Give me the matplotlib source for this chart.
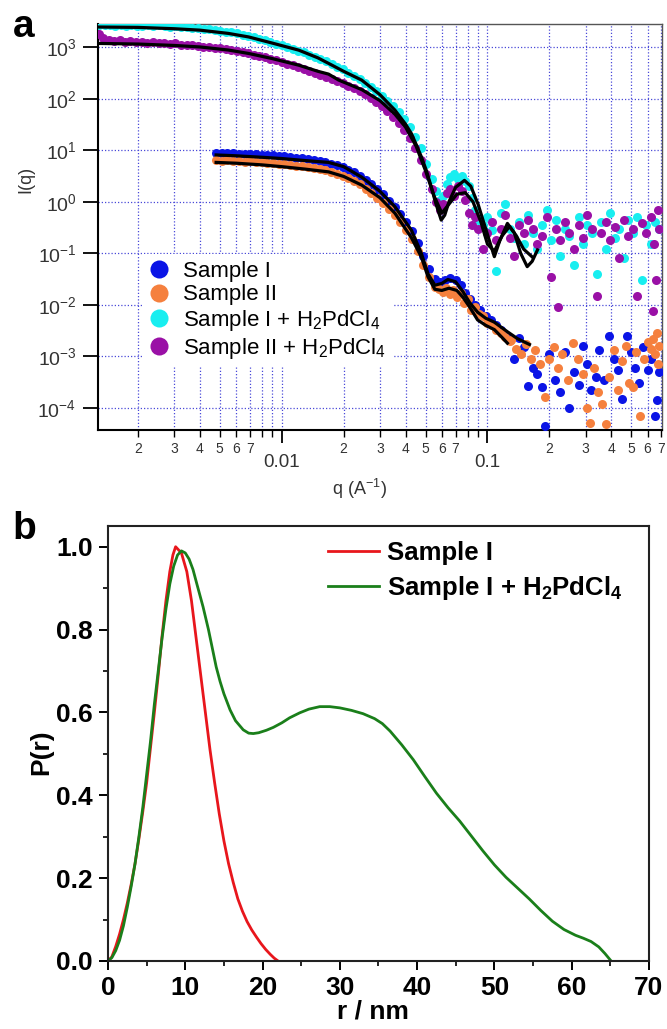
import numpy as np
import matplotlib
matplotlib.use("Agg")
import matplotlib.pyplot as plt
from matplotlib.lines import Line2D
from matplotlib.ticker import FixedLocator, FuncFormatter, NullLocator, MultipleLocator

plt.rcParams['font.family'] = ['Liberation Sans', 'DejaVu Sans']
plt.rcParams['mathtext.fontset'] = 'custom'
plt.rcParams['mathtext.rm'] = 'Liberation Sans'
plt.rcParams['mathtext.it'] = 'Liberation Sans:italic'
plt.rcParams['mathtext.bf'] = 'Liberation Sans:bold'

# ---------------- panel a : SAXS I(q) ----------------
# Sample I + H2PdCl4 (cyan) data
q_c = [0.00130, 0.00138, 0.00146, 0.00155, 0.00165, 0.00175, 0.00186, 0.00198, 0.00210, 0.00224,
       0.00238, 0.00253, 0.00270, 0.00287, 0.00305, 0.00325, 0.00346, 0.00368, 0.00392, 0.00417,
       0.00444, 0.00472, 0.00503, 0.00535, 0.00570, 0.00606, 0.00645, 0.00687, 0.00731, 0.00778,
       0.00828, 0.00881, 0.00938, 0.00998, 0.0106, 0.0113, 0.0120, 0.0128, 0.0136, 0.0145,
       0.0154, 0.0164, 0.0175, 0.0186, 0.0198, 0.0211, 0.0225, 0.0239, 0.0254, 0.0271,
       0.0288, 0.0307, 0.0326, 0.0347, 0.0370, 0.0393, 0.0419, 0.0446, 0.0474, 0.0505,
       0.0537, 0.0560, 0.0585, 0.0610, 0.0635, 0.0660, 0.0690, 0.0720, 0.0750, 0.0780,
       0.0810, 0.0840, 0.0870, 0.0900,
       0.095, 0.100, 0.105, 0.110, 0.116, 0.122, 0.128, 0.135, 0.142, 0.150,
       0.158, 0.166, 0.175, 0.184, 0.194, 0.204, 0.215, 0.226, 0.238, 0.250,
       0.263, 0.277, 0.291, 0.306, 0.322, 0.339, 0.357, 0.375, 0.395, 0.415,
       0.437, 0.460, 0.484, 0.509, 0.535, 0.563, 0.592, 0.623, 0.655, 0.680]
i_c = [2750, 2650, 2700, 2600, 2650, 2580, 2700, 2620, 2580, 2680,
       2550, 2640, 2600, 2500, 2560, 2450, 2500, 2400, 2350, 2300,
       2250, 2150, 2100, 2000, 1950, 1850, 1750, 1650, 1550, 1450,
       1350, 1250, 1150, 1080, 1000, 930, 860, 790, 720, 650,
       590, 530, 470, 420, 370, 320, 280, 240, 205, 170,
       140, 115, 92, 72, 54, 40, 28, 18, 11, 5.5,
       2.8, 1.6, 1.1, 1.3, 2.2, 3.0, 3.4, 2.8, 3.2, 2.5,
       2.0, 1.2, 0.7, 0.45,
       0.35, 0.5, 0.28, 0.045, 0.6, 0.9, 0.3, 0.2, 0.4, 0.15,
       0.55, 0.25, 0.12, 0.35, 0.7, 0.18, 0.45, 0.09, 0.3, 0.22,
       0.06, 0.5, 0.15, 0.35, 0.25, 0.04, 0.4, 0.12, 0.6, 0.2,
       0.3, 0.08, 0.45, 0.25, 0.5, 0.03, 0.35, 0.15, 0.4, 0.3]

# Sample II + H2PdCl4 (purple) data
q_p = [0.00130, 0.00136, 0.00144, 0.00153, 0.00163, 0.00173, 0.00184, 0.00196, 0.00209, 0.00222,
       0.00237, 0.00252, 0.00268, 0.00286, 0.00304, 0.00324, 0.00345, 0.00367, 0.00391, 0.00416,
       0.00443, 0.00472, 0.00502, 0.00535, 0.00569, 0.00606, 0.00645, 0.00687, 0.00731, 0.00778,
       0.00828, 0.00881, 0.00938, 0.00998, 0.0106, 0.0113, 0.0120, 0.0128, 0.0136, 0.0145,
       0.0154, 0.0164, 0.0175, 0.0186, 0.0198, 0.0211, 0.0225, 0.0239, 0.0254, 0.0271,
       0.0288, 0.0307, 0.0326, 0.0347, 0.0370, 0.0393, 0.0419, 0.0446, 0.0474, 0.0505,
       0.0537, 0.0560, 0.0585, 0.0610, 0.0635, 0.0660, 0.0690, 0.0720, 0.0750, 0.0780,
       0.0810, 0.0840, 0.0870, 0.0900,
       0.095, 0.100, 0.105, 0.110, 0.116, 0.122, 0.128, 0.135, 0.142, 0.150,
       0.158, 0.166, 0.175, 0.184, 0.194, 0.204, 0.215, 0.220, 0.226, 0.238,
       0.250, 0.263, 0.277, 0.291, 0.306, 0.322, 0.339, 0.357, 0.375, 0.395,
       0.415, 0.437, 0.460, 0.484, 0.509, 0.535, 0.563, 0.592, 0.623, 0.640,
       0.645, 0.660, 0.675, 0.685]
i_p = [1800, 1500, 1350, 1300, 1350, 1250, 1300, 1280, 1250, 1200,
       1250, 1180, 1200, 1150, 1180, 1120, 1100, 1080, 1050, 1000,
       1030, 980, 960, 920, 880, 840, 800, 760, 720, 680,
       640, 600, 560, 520, 480, 445, 410, 375, 345, 315,
       290, 265, 240, 220, 200, 180, 160, 140, 122, 105,
       88, 72, 58, 45, 34, 25, 17, 11, 6.5, 3.5,
       1.8, 1.0, 0.7, 0.9, 1.5, 1.8, 1.3, 2.0, 1.6, 1.1,
       0.6, 0.35, 0.5, 0.3,
       0.12, 0.25, 0.4, 0.18, 0.3, 0.55, 0.2, 0.09, 0.35, 0.25,
       0.45, 0.3, 0.15, 0.22, 0.5, 0.035, 0.3, 0.009, 0.18, 0.4,
       0.25, 0.12, 0.35, 0.2, 0.55, 0.3, 0.015, 0.25, 0.4, 0.18,
       0.32, 0.08, 0.45, 0.22, 0.3, 0.015, 0.38, 0.25, 0.5, 0.0075,
       0.15, 0.03, 0.7, 0.3]

# Sample I (blue) data
q_b = [0.0048, 0.0051, 0.0054, 0.0058, 0.0062, 0.0066, 0.0070, 0.0075, 0.0080, 0.0085,
       0.0091, 0.0097, 0.0103, 0.0110, 0.0118, 0.0126, 0.0134, 0.0143, 0.0153, 0.0163,
       0.0174, 0.0186, 0.0198, 0.0211, 0.0225, 0.0240, 0.0256, 0.0273, 0.0291, 0.0311,
       0.0332, 0.0354, 0.0377, 0.0402, 0.0429, 0.0458, 0.0488, 0.0520, 0.0555, 0.0590,
       0.0625, 0.0660, 0.0700, 0.0740, 0.0780, 0.0820, 0.0870, 0.0920, 0.0980, 0.1040,
       0.1100, 0.1170, 0.1240,
       0.135, 0.142, 0.150, 0.158, 0.166, 0.175, 0.184, 0.190, 0.200, 0.212,
       0.225, 0.238, 0.250, 0.263, 0.277, 0.290, 0.305, 0.320, 0.335, 0.350,
       0.370, 0.390, 0.410, 0.430, 0.450, 0.475, 0.500, 0.520, 0.545, 0.570,
       0.600, 0.625, 0.650, 0.665, 0.680]
i_b = [9.0, 8.8, 8.9, 8.7, 8.6, 8.5, 8.6, 8.3, 8.2, 8.0,
       7.9, 7.7, 7.6, 7.4, 7.2, 7.0, 6.8, 6.5, 6.2, 5.9,
       5.5, 5.1, 4.7, 4.2, 3.7, 3.2, 2.7, 2.2, 1.8, 1.4,
       1.05, 0.8, 0.58, 0.40, 0.27, 0.16, 0.09, 0.05, 0.032, 0.028,
       0.030, 0.033, 0.030, 0.024, 0.017, 0.013, 0.010, 0.008, 0.006, 0.0050,
       0.0040, 0.0032, 0.0025,
       0.0009, 0.0023, 0.0015, 0.00026, 0.0006, 0.00045, 0.00025, 4.5e-5, 0.0011, 0.00035,
       0.0002, 0.0012, 0.0001, 0.0005, 0.00028, 0.0016, 0.0007, 0.00022, 0.0004, 0.0013,
       0.00035, 0.0025, 0.0009, 0.00055, 0.00015, 0.0025, 0.0012, 0.0006, 0.0003, 0.0015,
       0.00055, 0.0009, 7e-5, 0.00014, 0.0005]

# Sample II (orange) data
q_o = [0.0048, 0.0051, 0.0054, 0.0058, 0.0062, 0.0066, 0.0070, 0.0075, 0.0080, 0.0085,
       0.0091, 0.0097, 0.0103, 0.0110, 0.0118, 0.0126, 0.0134, 0.0143, 0.0153, 0.0163,
       0.0174, 0.0186, 0.0198, 0.0211, 0.0225, 0.0240, 0.0256, 0.0273, 0.0291, 0.0311,
       0.0332, 0.0354, 0.0377, 0.0402, 0.0429, 0.0458, 0.0488, 0.0520, 0.0555, 0.0580,
       0.0605, 0.0630, 0.0655, 0.0680, 0.0710, 0.0740, 0.0770, 0.0800, 0.0835, 0.0870,
       0.0910, 0.0950, 0.1000, 0.1050, 0.1100, 0.1160, 0.1220, 0.1290,
       0.130, 0.138, 0.146, 0.154, 0.162, 0.170, 0.180, 0.190, 0.200, 0.210,
       0.220, 0.230, 0.245, 0.260, 0.275, 0.290, 0.305, 0.315, 0.330, 0.345,
       0.360, 0.375, 0.390, 0.410, 0.430, 0.450, 0.470, 0.490, 0.510, 0.530,
       0.550, 0.575, 0.600, 0.620, 0.640, 0.655, 0.665, 0.675, 0.685]
i_o = [6.5, 6.3, 6.4, 6.2, 6.1, 6.0, 6.1, 5.9, 5.8, 5.7,
       5.6, 5.5, 5.4, 5.2, 5.0, 4.9, 4.7, 4.5, 4.3, 4.1,
       3.8, 3.5, 3.2, 2.9, 2.5, 2.2, 1.8, 1.5, 1.2, 0.95,
       0.72, 0.55, 0.40, 0.28, 0.19, 0.11, 0.06, 0.035, 0.022, 0.020,
       0.018, 0.021, 0.016, 0.019, 0.014, 0.017, 0.011, 0.013, 0.008, 0.009,
       0.0065, 0.006, 0.0045, 0.0040, 0.0033, 0.0028, 0.0024, 0.0020,
       0.0021, 0.0014, 0.0011, 0.0017, 0.0009, 0.0013, 0.0007, 0.00016, 0.0009, 0.0015,
       0.0006, 0.0011, 0.00035, 0.0018, 0.0009, 0.00045, 0.0001, 5e-5, 0.0006, 0.0002,
       0.00012, 4.8e-5, 0.0004, 0.0013, 0.00022, 0.0008, 0.0016, 0.0003, 0.00025, 0.0012,
       7e-5, 0.0009, 0.0019, 0.0014, 0.0022, 0.0011, 0.0028, 0.0007, 0.0016]

# model fits (black lines)
q_fit1 = [0.00130, 0.0020, 0.0030, 0.0040, 0.0055, 0.0069, 0.0090, 0.0121, 0.0150, 0.0175,
          0.0200, 0.0245, 0.0300, 0.0355, 0.0400, 0.0427, 0.0450, 0.0477, 0.0505, 0.0533,
          0.0560, 0.0596, 0.0620, 0.0650, 0.0700, 0.0773, 0.0830, 0.0900, 0.0980, 0.1080,
          0.1150, 0.1250, 0.1350, 0.1450, 0.1560, 0.1650, 0.1750]
i_fit1 = [2460, 2420, 2280, 2140, 1850, 1580, 1200, 875, 620, 450,
          340, 229, 120, 60, 32, 21, 13, 7.5, 4.0, 1.96,
          0.95, 0.44, 0.55, 1.0, 1.9, 2.6, 2.0, 0.9, 0.3, 0.086,
          0.18, 0.38, 0.25, 0.10, 0.055, 0.07, 0.116]
q_fit2 = [0.00130, 0.0020, 0.0030, 0.0040, 0.0055, 0.0069, 0.0090, 0.0121, 0.0150, 0.0169,
          0.0189, 0.0245, 0.0300, 0.0355, 0.0400, 0.0450, 0.0500, 0.0550, 0.0600, 0.0650,
          0.0710, 0.0780, 0.0850, 0.0930, 0.1000, 0.1080, 0.1180, 0.1280, 0.1380, 0.1500,
          0.1650]
i_fit2 = [1180, 1150, 1080, 1010, 880, 755, 600, 447, 340, 300,
          230, 150, 92, 50, 28, 12, 4.0, 1.3, 0.6, 0.9,
          1.4, 1.5, 1.0, 0.4, 0.15, 0.11, 0.22, 0.33, 0.22, 0.12,
          0.085]
q_fit3 = [0.0048, 0.0060, 0.0080, 0.0100, 0.0130, 0.0169, 0.0200, 0.0245, 0.0300, 0.0355,
          0.0427, 0.0477, 0.0514, 0.0555, 0.0600, 0.0642, 0.0700, 0.0760, 0.0820, 0.0895,
          0.0980, 0.1080, 0.1250, 0.1400, 0.1600]
i_fit3 = [8.1, 7.8, 7.3, 6.9, 6.3, 5.8, 4.8, 3.0, 1.6, 0.8,
          0.28, 0.10, 0.040, 0.024, 0.026, 0.031, 0.028, 0.018, 0.011, 0.0072,
          0.0055, 0.0046, 0.0030, 0.0022, 0.0017]
q_fit4 = [0.0048, 0.0060, 0.0080, 0.0100, 0.0130, 0.0169, 0.0200, 0.0245, 0.0300, 0.0355,
          0.0427, 0.0477, 0.0514, 0.0555, 0.0600, 0.0650, 0.0710, 0.0760, 0.0820, 0.0895,
          0.0980, 0.1080, 0.1180, 0.1250]
i_fit4 = [5.8, 5.6, 5.2, 4.8, 4.3, 3.8, 3.1, 2.1, 1.2, 0.6,
          0.2, 0.085, 0.035, 0.020, 0.019, 0.021, 0.019, 0.014, 0.009, 0.0051,
          0.0040, 0.0033, 0.0023, 0.0018]

labels_a = ["Sample I", "Sample II", r"Sample I + H$_2$PdCl$_4$", r"Sample II + H$_2$PdCl$_4$"]
colors_a = ["#0a14e6", "#f5803e", "#18eef0", "#9a10a6"]

# ---------------- panel b : P(r) ----------------
r_red = [0, 0.5, 1.0, 1.5, 2.0, 2.5, 3.0, 3.5, 4.0, 4.5, 5.0, 5.5, 6.0, 6.5, 7.0, 7.5, 8.0, 8.4, 8.75,
         9.5, 10.2, 10.8, 11.4, 12.0, 12.6, 13.2, 13.8, 14.4, 15.0, 15.6, 16.2, 16.8, 17.4, 18.0,
         18.6, 19.2, 19.8, 20.4, 21.0, 21.5, 22.0]
p_red = [0, 0.01, 0.035, 0.065, 0.10, 0.14, 0.185, 0.235, 0.295, 0.36, 0.43, 0.515, 0.60, 0.69, 0.785,
         0.87, 0.94, 0.98, 1.0,
         0.985, 0.94, 0.87, 0.78, 0.69, 0.60, 0.51, 0.43, 0.355, 0.29, 0.235, 0.19, 0.15, 0.12, 0.095,
         0.075, 0.058, 0.042, 0.028, 0.016, 0.007, 0.0]
r_green = [0, 0.5, 1.0, 1.5, 2.0, 2.5, 3.0, 3.5, 4.0, 4.5, 5.0, 5.5, 6.0, 6.5, 7.0, 7.5, 8.0, 8.5, 9.0,
           9.5, 10.0, 10.5, 11.0, 11.5, 12.3, 13.0, 13.5, 14.0, 14.5, 15.0, 15.8, 16.5, 17.5, 18.2,
           18.8, 19.5, 20.5, 21.4, 22.5, 23.5, 24.8, 26.0, 27.4, 28.7, 30.0, 31.5, 33.0, 34.5, 35.5,
           36.5, 38.0, 39.5, 41.0, 42.5, 44.0, 45.5, 47.0, 48.5, 50.0, 51.5, 53.0, 54.5, 56.0, 57.5,
           59.0, 60.5, 61.5, 62.5, 63.5, 64.3, 65.1]
p_green = [0, 0.008, 0.025, 0.05, 0.085, 0.13, 0.18, 0.235, 0.30, 0.37, 0.45, 0.53, 0.62, 0.70, 0.78,
           0.85, 0.91, 0.953, 0.98,
           0.99, 0.985, 0.97, 0.945, 0.91, 0.855, 0.80, 0.755, 0.71, 0.675, 0.645, 0.606, 0.58, 0.558,
           0.55, 0.549, 0.551, 0.557, 0.564, 0.575, 0.587, 0.599, 0.608, 0.614, 0.614, 0.611, 0.605,
           0.597, 0.585, 0.573, 0.555, 0.522, 0.486, 0.445, 0.405, 0.37, 0.338, 0.302, 0.266, 0.232,
           0.202, 0.176, 0.15, 0.122, 0.096, 0.076, 0.062, 0.055, 0.047, 0.034, 0.018, 0.0]

fig = plt.figure(figsize=(6.67, 10.29), dpi=100)

# ---- top panel
ax1 = fig.add_axes([0.1469, 0.5821, 0.8456, 0.3946])
ax1.set_xscale('log')
ax1.set_yscale('log')
ax1.set_xlim(0.00128, 0.705)
ax1.set_ylim(10 ** -4.43, 10 ** 3.45)

series = [(q_b, i_b), (q_o, i_o), (q_c, i_c), (q_p, i_p)]
for (qq, ii), col in zip(series, colors_a):
    ax1.plot(qq, ii, linestyle='none', marker='o', ms=6.5, mfc=col, mec='none', zorder=3)
for qq, ii in [(q_fit1, i_fit1), (q_fit2, i_fit2), (q_fit3, i_fit3), (q_fit4, i_fit4)]:
    ax1.plot(qq, ii, color='black', lw=2.3, zorder=4)

majors_x = [0.01, 0.1]
minors_x = [m * d for d in [0.001, 0.01, 0.1] for m in range(2, 10) if m * d < 0.71]
ax1.xaxis.set_major_locator(FixedLocator(majors_x))
ax1.xaxis.set_minor_locator(FixedLocator(minors_x))
ax1.xaxis.set_major_formatter(FuncFormatter(lambda v, p: '0.01' if v < 0.05 else '0.1'))


def minor_lab(v, p):
    d = int(round(v / 10 ** np.floor(np.log10(v) + 1e-9)))
    return str(d) if d <= 7 else ''


ax1.xaxis.set_minor_formatter(FuncFormatter(minor_lab))
ax1.yaxis.set_major_locator(FixedLocator([10.0 ** k for k in range(-4, 4)]))
ax1.yaxis.set_minor_locator(NullLocator())
ax1.yaxis.set_major_formatter(FuncFormatter(lambda v, p: r'$10^{%d}$' % int(round(np.log10(v)))))

ax1.tick_params(axis='y', which='major', direction='out', length=10.5, width=1.3, labelsize=14, pad=5)
ax1.tick_params(axis='x', which='major', direction='out', length=9.5, width=1.3, labelsize=13.5, pad=8)
ax1.tick_params(axis='x', which='minor', direction='out', length=5, width=1.0, labelsize=10, pad=3.5)
for lab in ax1.get_xticklabels() + ax1.get_yticklabels() + ax1.get_xticklabels(minor=True):
    lab.set_color('#333333')

ax1.set_axisbelow(True)
grid_kw = dict(color='#4a4ad8', linestyle=(0, (1, 1.6)), linewidth=0.9)
ax1.grid(True, which='both', axis='x', **grid_kw)
ax1.grid(True, which='major', axis='y', **grid_kw)
for s in ['left', 'bottom']:
    ax1.spines[s].set_linewidth(1.5)
    ax1.spines[s].set_color('black')
for s in ['top', 'right']:
    ax1.spines[s].set_linewidth(1.0)
    ax1.spines[s].set_color('#555555')

ax1.set_ylabel('I(q)', fontsize=13, color='#333333')
ax1.yaxis.set_label_coords(-0.112, 0.616)
ax1.set_xlabel(r'q (A$^{-1}$)', fontsize=13, color='#333333')
ax1.xaxis.set_label_coords(0.463, -0.116)

handles_a = [Line2D([], [], linestyle='none', marker='o', ms=13, mfc=c, mec='none') for c in colors_a]
leg1 = ax1.legend(handles_a, labels_a, loc='upper left', bbox_to_anchor=(0.2129, 0.7532),
                  bbox_transform=fig.transFigure, borderaxespad=0, fontsize=16, frameon=True,
                  framealpha=1, facecolor='white', edgecolor='none', fancybox=False,
                  handlelength=0.95, handletextpad=0.6, borderpad=0.3, labelspacing=0.12)
leg1.set_zorder(5)

# ---- bottom panel
ax2 = fig.add_axes([0.1619, 0.0661, 0.8111, 0.4227])
ax2.plot(r_red, p_red, color='#e8161c', lw=2.0, label='Sample I')
ax2.plot(r_green, p_green, color='#1a7f1a', lw=2.0, label=r'Sample I + H$_\mathbf{2}$PdCl$_\mathbf{4}$')
ax2.set_xlim(0, 70)
ax2.set_ylim(0, 1.05)
ax2.xaxis.set_major_locator(MultipleLocator(10))
ax2.xaxis.set_minor_locator(MultipleLocator(5))
ax2.yaxis.set_major_locator(MultipleLocator(0.2))
ax2.yaxis.set_minor_locator(MultipleLocator(0.1))
ax2.yaxis.set_major_formatter(FuncFormatter(lambda v, p: '%.1f' % v))
ax2.tick_params(which='major', direction='out', length=6.5, width=1.4, labelsize=19, pad=4.5)
ax2.tick_params(which='minor', direction='out', length=3.6, width=1.2)
for lab in ax2.get_xticklabels() + ax2.get_yticklabels():
    lab.set_fontweight('bold')
for s in ax2.spines.values():
    s.set_linewidth(1.5)
    s.set_color('#222222')
ax2.set_ylabel('P(r)', fontsize=19, fontweight='bold')
ax2.yaxis.set_label_coords(-0.102, 0.48)
ax2.set_xlabel('r / nm', fontsize=19, fontweight='bold')
ax2.xaxis.set_label_coords(0.49, -0.088)
ax2.legend(loc='upper left', bbox_to_anchor=(0.4918, 0.4742), bbox_transform=fig.transFigure,
           borderaxespad=0, frameon=False, prop={'size': 18.5, 'weight': 'bold'},
           handlelength=2.0, handletextpad=0.3, borderpad=0, labelspacing=0.35)

fig.text(13 / 667, 1 - 37 / 1029, 'a', fontsize=28, fontweight='bold', va='baseline')
fig.text(12 / 667, 1 - 539 / 1029, 'b', fontsize=28, fontweight='bold', va='baseline')

fig.savefig('out.png', dpi=100)
